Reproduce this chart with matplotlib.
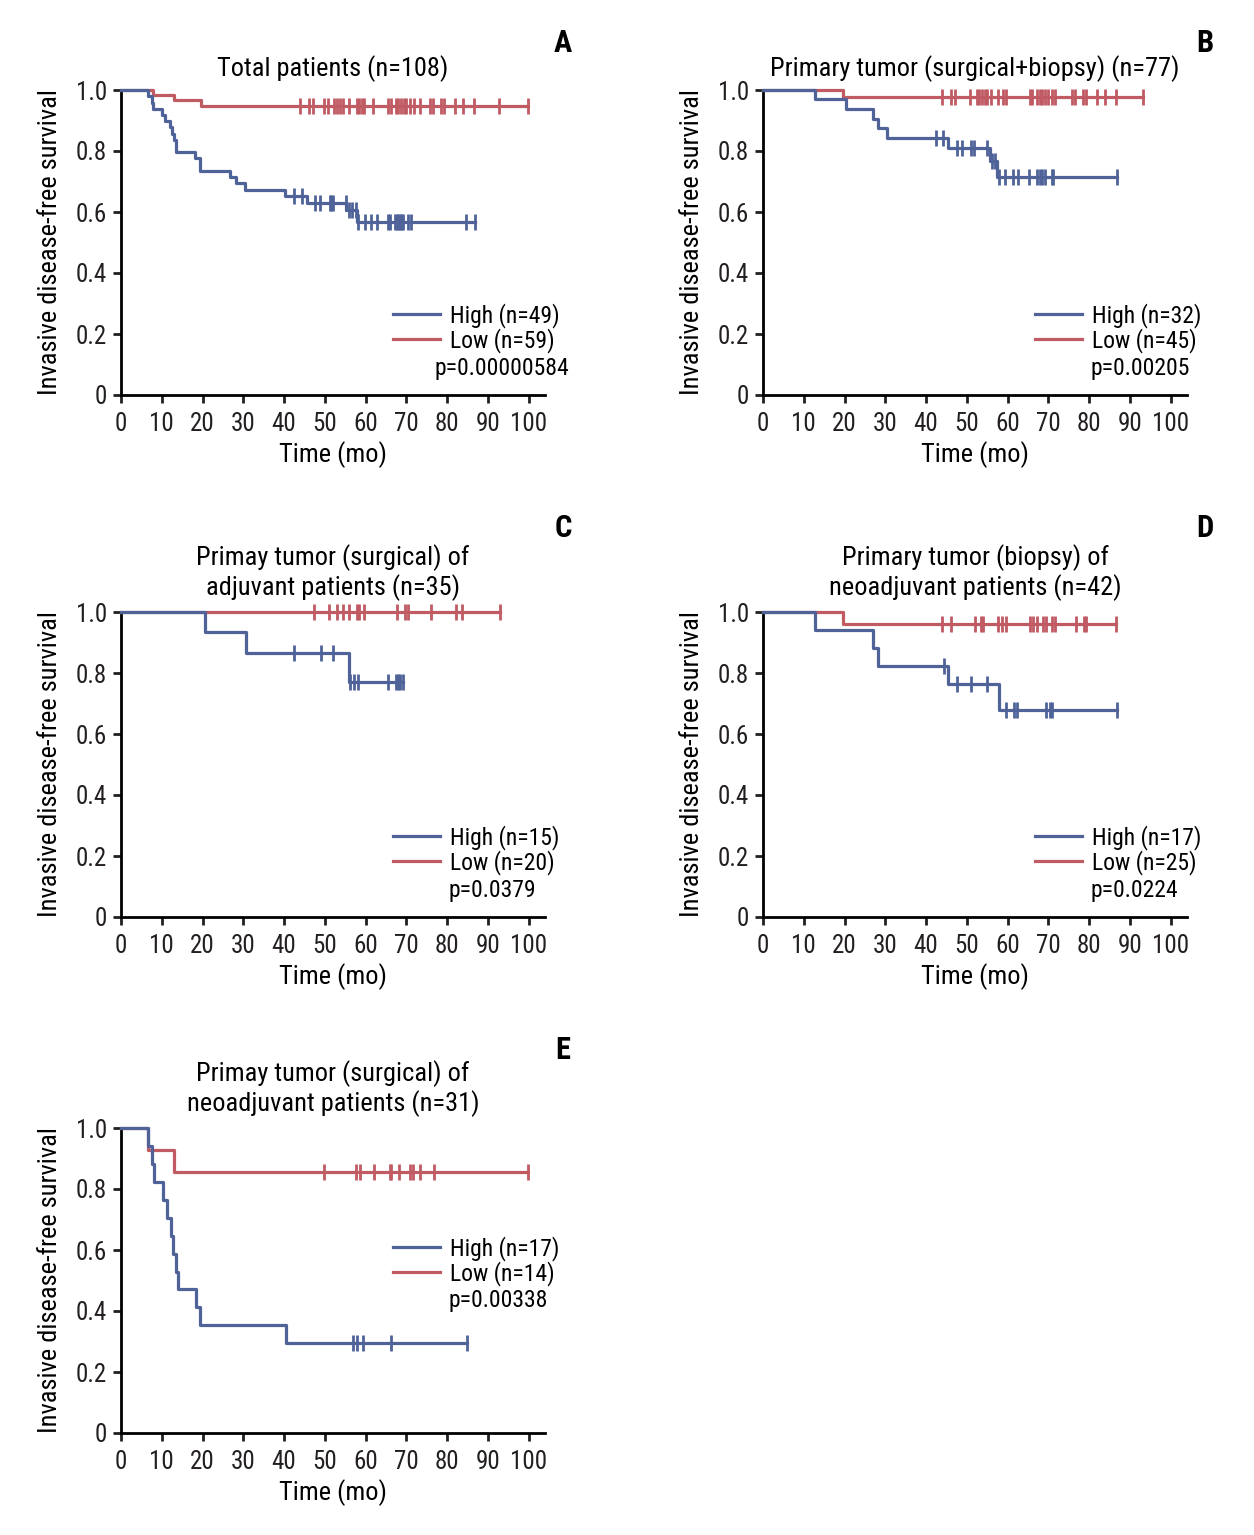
import numpy as np
import matplotlib.pyplot as plt
from matplotlib.lines import Line2D

plt.rcParams['font.family'] = ['Roboto Condensed', 'DejaVu Sans']
plt.rcParams['axes.linewidth'] = 2.0

BLUE = '#4f6399'
RED = '#c05a63'

# ---- panel A: total patients
a_high_t = [0, 6.7, 7.5, 7.9, 10.0, 10.8, 12.0, 12.4, 13.1, 13.6, 18.1, 19.4, 26.7, 28.3, 30.4, 40.2, 45.5, 55.3, 58.0, 86.8]
a_high_s = [1.0, 0.980, 0.959, 0.939, 0.918, 0.898, 0.878, 0.857, 0.837, 0.796, 0.776, 0.735, 0.714, 0.694, 0.673, 0.652, 0.631, 0.607, 0.568, 0.568]
a_high_c = [42.5, 44.5, 47.5, 48.9, 51.2, 51.6, 52.0, 55.1, 56.0, 56.6, 57.6, 58.2, 59.8, 61.4, 62.7, 65.5, 66.1,
            67.2, 67.6, 68.0, 68.4, 68.8, 69.1, 70.4, 71.2, 84.5, 86.8]
a_low_t = [0, 7.9, 13.1, 19.7, 99.8]
a_low_s = [1.0, 0.983, 0.966, 0.948, 0.948]
a_low_c = [44.0, 46.2, 47.0, 49.8, 50.8, 52.2, 53.0, 53.7, 54.5, 56.0, 57.8, 58.4, 59.0, 59.6, 61.8, 65.5, 66.3,
           67.4, 68.0, 68.8, 69.4, 70.0, 70.8, 71.8, 73.3, 75.9, 76.6, 78.6, 79.2, 81.9, 83.9, 86.5, 92.7, 99.8]

# ---- panel B: primary tumor (surgical+biopsy)
b_high_t = [0, 12.7, 20.3, 26.9, 28.3, 30.3, 45.4, 55.8, 57.5, 86.8]
b_high_s = [1.0, 0.969, 0.938, 0.906, 0.875, 0.844, 0.810, 0.767, 0.714, 0.714]
b_high_c = [42.4, 44.2, 47.5, 48.7, 51.1, 51.7, 55.0, 56.2, 57.0, 57.8, 59.3, 61.4, 62.6, 65.3, 67.2, 67.9,
            68.5, 69.1, 70.8, 71.2, 86.8]
b_low_t = [0, 19.7, 93.1]
b_low_s = [1.0, 0.978, 0.978]
b_low_c = [44.0, 46.1, 47.1, 50.7, 52.4, 53.0, 53.8, 54.5, 55.0, 56.0, 57.7, 58.9, 59.6, 65.4, 66.1, 67.2,
           67.9, 68.5, 69.1, 69.9, 70.8, 71.6, 75.7, 76.5, 78.5, 79.3, 81.9, 83.8, 86.7, 93.1]

# ---- panel C: surgical, adjuvant
c_high_t = [0, 20.6, 30.6, 55.9, 69.2]
c_high_s = [1.0, 0.933, 0.867, 0.772, 0.772]
c_high_c = [42.5, 49.0, 52.0, 56.1, 57.1, 58.2, 65.5, 67.4, 68.0, 68.5, 69.2]
c_low_t = [0, 92.9]
c_low_s = [1.0, 1.0]
c_low_c = [47.3, 51.0, 52.9, 54.5, 56.0, 57.8, 58.4, 59.6, 67.8, 69.6, 70.4, 76.0, 82.1, 83.7, 92.9]

# ---- panel D: biopsy, neoadjuvant
d_high_t = [0, 12.7, 26.9, 28.3, 45.4, 57.9, 86.8]
d_high_s = [1.0, 0.941, 0.882, 0.824, 0.763, 0.679, 0.679]
d_high_c = [44.4, 47.5, 51.1, 55.0, 59.6, 61.5, 62.4, 69.3, 70.3, 70.9, 86.8]
d_low_t = [0, 19.7, 86.5]
d_low_s = [1.0, 0.96, 0.96]
d_low_c = [44.0, 46.1, 52.1, 53.4, 54.0, 57.7, 58.7, 59.6, 65.4, 66.3, 67.1, 68.7, 69.5, 70.8, 71.6,
           76.7, 78.8, 79.3, 86.5]

# ---- panel E: surgical, neoadjuvant
e_high_t = [0, 6.7, 7.7, 8.2, 10.2, 11.2, 12.2, 12.7, 13.6, 14.1, 18.4, 19.4, 40.4, 84.9]
e_high_s = [1.0, 0.941, 0.882, 0.824, 0.765, 0.706, 0.647, 0.588, 0.529, 0.471, 0.412, 0.353, 0.294, 0.294]
e_high_c = [56.8, 57.8, 59.4, 66.3, 84.9]
e_low_t = [0, 6.7, 13.1, 99.8]
e_low_s = [1.0, 0.929, 0.857, 0.857]
e_low_c = [49.8, 57.6, 58.6, 62.0, 65.9, 66.3, 68.1, 70.8, 71.5, 73.4, 76.7, 99.8]

W, H = 1254, 1535
fig = plt.figure(figsize=(W / 100, H / 100), dpi=100)


def curve(ax, t, s, cens, color):
    ax.step(t, s, where='post', color=color, lw=2.3, clip_on=False, zorder=3)
    idx = np.searchsorted(t, cens, side='right') - 1
    ax.plot(cens, np.array(s)[idx], ls='none', marker='|', ms=11, mew=2.0,
            color=color, clip_on=False, zorder=3)


def panel(x0, ytop, ybot, letter, letter_y, title, high, low, labels, leg_y, p, p_x):
    ax = fig.add_axes([x0 / W, 1 - ybot / H, 424 / W, (ybot - ytop) / H])
    curve(ax, *low, RED)
    curve(ax, *high, BLUE)
    ax.set_xlim(0, 104)
    ax.set_ylim(0, 1.0)
    ax.set_xticks(range(0, 101, 10))
    ax.set_yticks([0, 0.2, 0.4, 0.6, 0.8, 1.0])
    ax.set_yticklabels(['0', '0.2', '0.4', '0.6', '0.8', '1.0'])
    ax.tick_params(length=6, width=2, labelsize=18, colors='#231f20')
    ax.tick_params(axis='x', pad=6)
    ax.tick_params(axis='y', pad=4)
    for sp in ['top', 'right']:
        ax.spines[sp].set_visible(False)
    ax.set_xlabel('Time (mo)', fontsize=19, labelpad=4)
    ax.set_ylabel('Invasive disease-free survival', fontsize=19, labelpad=10)
    ax.set_title(title, fontsize=19, pad=12 if '\n' in title else 10, linespacing=1.15)
    fig.text((x0 + 442) / W, 1 - letter_y / H, letter, fontsize=22, fontweight='bold',
             ha='center', va='center')
    handles = [Line2D([], [], color=BLUE, lw=2.3), Line2D([], [], color=RED, lw=2.3)]
    ax.legend(handles, labels, loc='center left', frameon=False,
              bbox_to_anchor=((x0 + 272) / W, 1 - leg_y / H), bbox_transform=fig.transFigure,
              fontsize=17, borderpad=0, borderaxespad=0, handlelength=2.0,
              handletextpad=0.4, labelspacing=0.02)
    fig.text((x0 + p_x) / W, 1 - (leg_y + 40) / H, p, fontsize=17, ha='left', va='center')
    return ax


panel(121, 90, 395, 'A', 43, 'Total patients (n=108)',
      (a_high_t, a_high_s, a_high_c), (a_low_t, a_low_s, a_low_c),
      ['High (n=49)', 'Low (n=59)'], 328, 'p=0.00000584', 313)
panel(763, 90, 395, 'B', 43, 'Primary tumor (surgical+biopsy) (n=77)',
      (b_high_t, b_high_s, b_high_c), (b_low_t, b_low_s, b_low_c),
      ['High (n=32)', 'Low (n=45)'], 328, 'p=0.00205', 328)
panel(121, 612, 917, 'C', 528, 'Primay tumor (surgical) of\nadjuvant patients (n=35)',
      (c_high_t, c_high_s, c_high_c), (c_low_t, c_low_s, c_low_c),
      ['High (n=15)', 'Low (n=20)'], 850, 'p=0.0379', 328)
panel(763, 612, 917, 'D', 528, 'Primary tumor (biopsy) of\nneoadjuvant patients (n=42)',
      (d_high_t, d_high_s, d_high_c), (d_low_t, d_low_s, d_low_c),
      ['High (n=17)', 'Low (n=25)'], 850, 'p=0.0224', 328)
panel(121, 1128, 1433, 'E', 1050, 'Primay tumor (surgical) of\nneoadjuvant patients (n=31)',
      (e_high_t, e_high_s, e_high_c), (e_low_t, e_low_s, e_low_c),
      ['High (n=17)', 'Low (n=14)'], 1261, 'p=0.00338', 328)

fig.savefig('out.png', dpi=100)
